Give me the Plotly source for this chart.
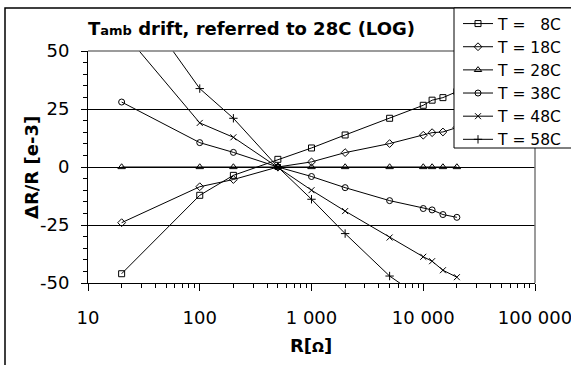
import plotly.graph_objects as go

# ---- data ----
R = [20, 100, 200, 500, 1000, 2000, 5000, 10000, 12000, 15000, 20000]
T8 = [-46, -12.2, -3.6, 3.3, 8.2, 13.8, 21.0, 26.6, 28.8, 29.9, 32.5]
T18 = [-24, -8.5, -5.4, 0, 2.2, 6.2, 10.1, 13.7, 14.8, 15.1, 17.0]
T28 = [0, 0, 0, 0, 0, 0, 0, 0, 0, 0, 0]
T38 = [28, 10.5, 6.3, 0, -4.1, -8.9, -14.5, -17.9, -18.5, -20.5, -21.7]
T48 = [59, 19.0, 12.8, 0, -10.0, -19.0, -30.4, -38.7, -40.6, -44.5, -47.5]
T58 = [81, 33.8, 21.0, 0, -13.9, -28.7, -47.0, -57.0, -60.0, -63.0, -67.0]

series_names = ["T =\u00a0\u00a0\u00a08C", "T = 18C", "T = 28C", "T = 38C", "T = 48C", "T = 58C"]
series_values = [T8, T18, T28, T38, T48, T58]
symbols = ["square-open", "diamond-open", "triangle-up-open", "circle-open", "x-thin-open", "cross-thin-open"]
sizes = [6, 6, 6.5, 6, 6, 6]

x_tickvals = [10, 100, 1000, 10000, 100000]
x_ticktext = ["10", "100", "1 000", "10 000", "100 000"]
y_tickvals = [-50, -25, 0, 25, 50]
y_ticktext = ["-50", "-25", "0", "25", "50"]

W, H = 571, 365
L, Rm, T, B = 88, 36, 51, 82
pw, ph = W - L - Rm, H - T - B

def px(x):
    return (x - L) / pw

def py(y):
    return (H - B - y) / ph

FONT = "DejaVu Sans, Liberation Sans, sans-serif"

fig = go.Figure()
for name, vals, sym, sz in zip(series_names, series_values, symbols, sizes):
    fig.add_trace(go.Scatter(
        x=R, y=vals, name=name, mode="lines+markers",
        line=dict(color="black", width=1),
        marker=dict(symbol=sym, size=sz, color="black", line=dict(color="black", width=1)),
    ))

fig.update_layout(
    width=W, height=H,
    margin=dict(l=L, r=Rm, t=T, b=B, autoexpand=False),
    paper_bgcolor="white", plot_bgcolor="white",
    font=dict(family=FONT, size=18, color="black"),
    showlegend=True,
    legend=dict(
        x=px(458), y=py(7), xanchor="left", yanchor="top",
        bgcolor="rgba(0,0,0,0)", borderwidth=0,
        font=dict(family=FONT, size=15.5, color="black"),
        itemwidth=30, tracegroupgap=0,
    ),
)

fig.update_xaxes(
    type="log", range=[1, 5],
    showline=True, linecolor="black", linewidth=1,
    ticks="outside", ticklen=7, tickcolor="black",
    tickvals=x_tickvals, ticktext=x_ticktext,
    tickfont=dict(family=FONT, size=18, color="black"),
    ticklabelstandoff=11, ticklabeloverflow="allow",
    showgrid=False, zeroline=False,
    minor=dict(ticks="outside", ticklen=4, tickcolor="black", dtick="D1", showgrid=False),
)
fig.update_yaxes(
    range=[-50, 50],
    showline=True, linecolor="black", linewidth=1,
    ticks="outside", ticklen=6, tickcolor="black",
    tickvals=y_tickvals, ticktext=y_ticktext,
    tickfont=dict(family=FONT, size=18, color="black"),
    ticklabelstandoff=8, ticklabeloverflow="allow",
    showgrid=True, gridcolor="black", gridwidth=1,
    zeroline=True, zerolinecolor="black", zerolinewidth=1,
    minor=dict(ticks="outside", ticklen=4, tickcolor="black", dtick=5, showgrid=False),
)

# plot area border (grey top/right), chart border, legend box
fig.add_shape(type="line", xref="paper", yref="paper", x0=0, x1=1, y0=1, y1=1,
              line=dict(color="#7a7a7a", width=1.5), layer="above")
fig.add_shape(type="line", xref="paper", yref="paper", x0=1, x1=1, y0=0, y1=1,
              line=dict(color="#7a7a7a", width=1.5), layer="above")
fig.add_shape(type="rect", xref="paper", yref="paper",
              x0=px(5), x1=px(620), y0=py(420), y1=py(8),
              line=dict(color="black", width=1.5), fillcolor="rgba(0,0,0,0)", layer="below")
fig.add_shape(type="rect", xref="paper", yref="paper",
              x0=px(454), x1=px(620), y0=py(148), y1=py(8),
              line=dict(color="black", width=1), fillcolor="white", layer="above")

fig.add_annotation(
    text="<b>T<span style='font-size:13px'>amb</span> drift, referred to 28C (LOG)</b>",
    xref="paper", yref="paper", x=px(251), y=py(29), xanchor="center", yanchor="middle",
    showarrow=False, font=dict(family=FONT, size=18, color="black"),
)
fig.add_annotation(
    text="<b>\u0394R/R [e-3]</b>", textangle=-90,
    xref="paper", yref="paper", x=px(31), y=py(167), xanchor="center", yanchor="middle",
    showarrow=False, font=dict(family=FONT, size=18, color="black"),
)
fig.add_annotation(
    text="<b>R[<span style='font-size:14px'>\u03a9</span>]</b>",
    xref="paper", yref="paper", x=px(311), y=py(345), xanchor="center", yanchor="middle",
    showarrow=False, font=dict(family=FONT, size=18, color="black"),
)

fig.write_html("out.html", config={"displayModeBar": False},
               post_script="document.body.style.margin='0';document.body.style.padding='0';")
